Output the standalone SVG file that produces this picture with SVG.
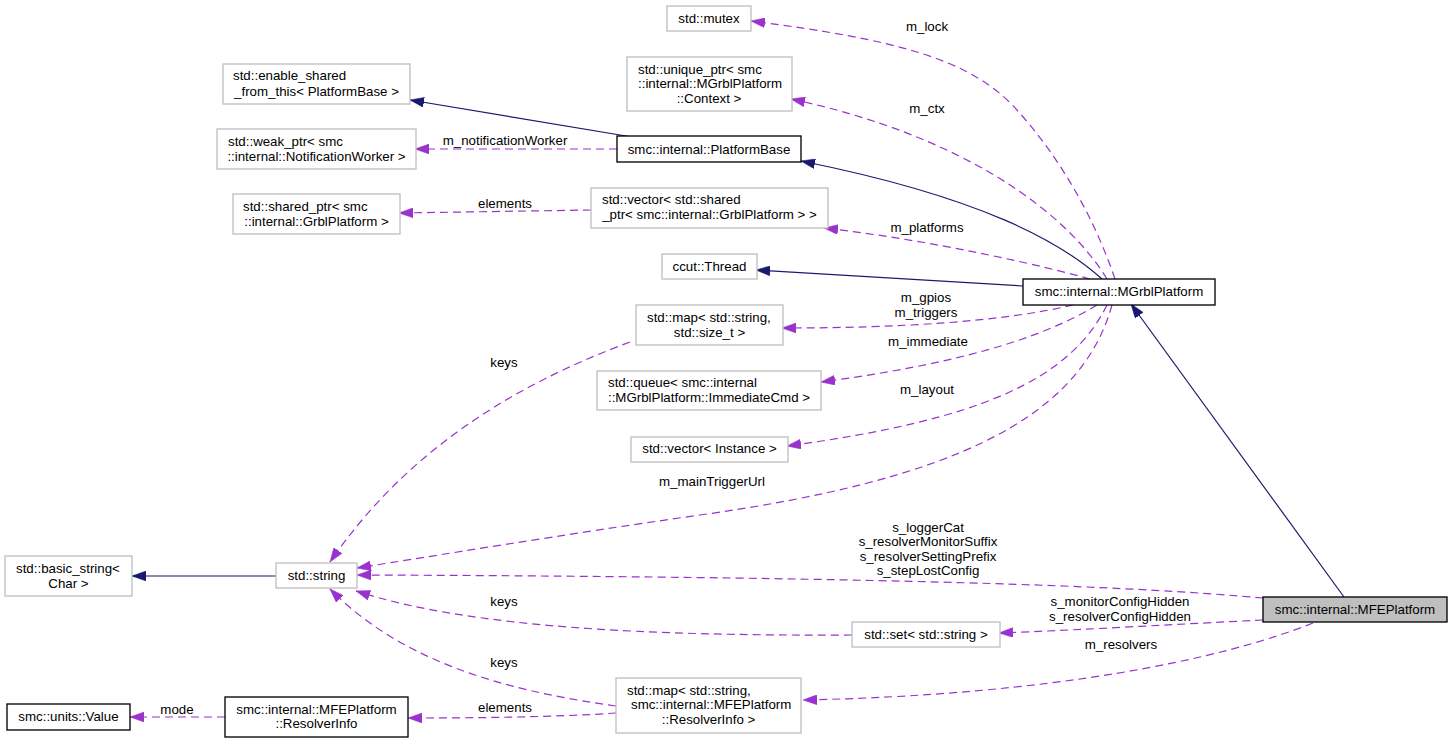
<svg xmlns="http://www.w3.org/2000/svg" width="1452" height="743" viewBox="0 0 1452 743">
<style>
text{font-family:"Liberation Sans",Arial,sans-serif;font-size:13.3px;fill:#000}
.c{text-anchor:middle}
.s{text-anchor:start}
.ext{fill:#fff;stroke:#bfbfbf;stroke-width:1.33}
.doc{fill:#fff;stroke:#000;stroke-width:1.33}
.cur{fill:#bfbfbf;stroke:#000;stroke-width:1.33}
.inh{fill:none;stroke:#191970;stroke-width:1.2}
.use{fill:none;stroke:#9a32cd;stroke-width:1.2;stroke-dasharray:8,5}
</style>
<defs>
<marker id="ah" markerUnits="userSpaceOnUse" markerWidth="14" markerHeight="10" viewBox="0 0 13.3 9.4" refX="13.3" refY="4.7" orient="auto">
<path d="M0,0 L13.3,4.7 L0,9.4 z" fill="#191970" stroke="#191970" stroke-width="0.5"/>
</marker>
<marker id="au" markerUnits="userSpaceOnUse" markerWidth="14" markerHeight="10" viewBox="0 0 13.3 9.4" refX="13.3" refY="4.7" orient="auto">
<path d="M0,0 L13.3,4.7 L0,9.4 z" fill="#9a32cd" stroke="#9a32cd" stroke-width="0.5"/>
</marker>
</defs>
<rect width="1452" height="743" fill="#fff"/>
<g id="connectors">
<path class="inh" marker-end="url(#ah)" d="M632,137 L410,100"/>
<path class="use" marker-end="url(#au)" d="M617,149 L415,149"/>
<path class="inh" marker-end="url(#ah)" d="M1102,279 C1062,243 985,198 801,161"/>
<path class="use" marker-end="url(#au)" d="M1115,279 C1095,220 1062,160 1017,110 S900,40 751,21"/>
<path class="use" marker-end="url(#au)" d="M1107,279 C1065,210 960,135 791,99"/>
<path class="use" marker-end="url(#au)" d="M1090,279 C1040,265 930,240 824,228"/>
<path class="use" marker-end="url(#au)" d="M591,210 L399,213"/>
<path class="inh" marker-end="url(#ah)" d="M1023,286 L756,270"/>
<path class="use" marker-end="url(#au)" d="M1073,305 C1000,322 900,328 782,328"/>
<path class="use" marker-end="url(#au)" d="M1097,305 C1040,340 950,365 821,382"/>
<path class="use" marker-end="url(#au)" d="M1107,305 C1070,380 980,420 787,446"/>
<path class="use" marker-end="url(#au)" d="M1112,305 C1080,420 950,480 700,515 C560,535 440,555 357,568"/>
<path class="use" marker-end="url(#au)" d="M1263,598 C1150,588 950,577 357,575"/>
<path class="use" marker-end="url(#au)" d="M1263,620 C1180,624 1080,630 999,633"/>
<path class="use" marker-end="url(#au)" d="M852,635 C650,636 470,628 356,591"/>
<path class="use" marker-end="url(#au)" d="M1313,623 C1220,660 1050,695 803,700"/>
<path class="use" marker-end="url(#au)" d="M616,706 C500,690 400,660 330,589"/>
<path class="use" marker-end="url(#au)" d="M616,713 C560,717 480,718 408,718"/>
<path class="use" marker-end="url(#au)" d="M225,717 L130,717"/>
<path class="inh" marker-end="url(#ah)" d="M276,576 L132,576"/>
<path class="use" marker-end="url(#au)" d="M630,342 C500,390 400,460 330,562"/>
<path class="inh" marker-end="url(#ah)" d="M1344,597 L1131,304"/>
<g id="edge-labels">
<text class="c" x="927" y="31">m_lock</text>
<text class="c" x="927" y="113">m_ctx</text>
<text class="c" x="505" y="145">m_notificationWorker</text>
<text class="c" x="505" y="208">elements</text>
<text class="c" x="927" y="232">m_platforms</text>
<text class="c" x="926" y="302">m_gpios</text>
<text class="c" x="926" y="317">m_triggers</text>
<text class="c" x="928" y="346">m_immediate</text>
<text class="c" x="927" y="394">m_layout</text>
<text class="c" x="504" y="367">keys</text>
<text class="c" x="712" y="486">m_mainTriggerUrl</text>
<text class="c" x="928" y="532">s_loggerCat</text>
<text class="c" x="928" y="546">s_resolverMonitorSuffix</text>
<text class="c" x="928" y="561">s_resolverSettingPrefix</text>
<text class="c" x="928" y="575">s_stepLostConfig</text>
<text class="c" x="1120" y="606">s_monitorConfigHidden</text>
<text class="c" x="1120" y="621">s_resolverConfigHidden</text>
<text class="c" x="1121" y="649">m_resolvers</text>
<text class="c" x="504" y="606">keys</text>
<text class="c" x="504" y="667">keys</text>
<text class="c" x="505" y="712">elements</text>
<text class="c" x="177" y="714">mode</text>
</g>
</g>
<g id="n-mutex"><rect class="ext" x="667" y="6" width="84" height="25"/><text class="c" x="709" y="23">std::mutex</text></g>
<g id="n-unique"><rect class="ext" x="627" y="57" width="165" height="54"/><text class="s" x="638" y="74">std::unique_ptr&lt; smc</text><text class="s" x="638" y="88">::internal::MGrblPlatform</text><text class="c" x="709" y="103">::Context &gt;</text></g>
<g id="n-platformbase"><rect class="doc" x="617" y="136" width="184" height="26"/><text class="c" x="709" y="154">smc::internal::PlatformBase</text></g>
<g id="n-enableshared"><rect class="ext" x="223" y="64" width="187" height="40"/><text class="s" x="233" y="80">std::enable_shared</text><text class="c" x="316.5" y="96">_from_this&lt; PlatformBase &gt;</text></g>
<g id="n-weakptr"><rect class="ext" x="217" y="129" width="199" height="40"/><text class="s" x="228" y="146">std::weak_ptr&lt; smc</text><text class="c" x="316.5" y="161">::internal::NotificationWorker &gt;</text></g>
<g id="n-sharedptr"><rect class="ext" x="233" y="194" width="167" height="40"/><text class="s" x="243" y="211">std::shared_ptr&lt; smc</text><text class="c" x="316.5" y="226">::internal::GrblPlatform &gt;</text></g>
<g id="n-vecshared"><rect class="ext" x="591" y="188" width="237" height="40"/><text class="s" x="602" y="204">std::vector&lt; std::shared</text><text class="c" x="709.5" y="219">_ptr&lt; smc::internal::GrblPlatform &gt; &gt;</text></g>
<g id="n-thread"><rect class="ext" x="662" y="254" width="95" height="25"/><text class="c" x="709.5" y="271">ccut::Thread</text></g>
<g id="n-mapsize"><rect class="ext" x="636" y="305" width="147" height="40"/><text class="s" x="647" y="322">std::map&lt; std::string,</text><text class="c" x="709.5" y="337">std::size_t &gt;</text></g>
<g id="n-queue"><rect class="ext" x="597" y="371" width="224" height="39"/><text class="s" x="608" y="387">std::queue&lt; smc::internal</text><text class="c" x="709" y="402">::MGrblPlatform::ImmediateCmd &gt;</text></g>
<g id="n-vecinstance"><rect class="ext" x="631" y="437" width="157" height="25"/><text class="c" x="709.5" y="453">std::vector&lt; Instance &gt;</text></g>
<g id="n-mgrbl"><rect class="doc" x="1023" y="279" width="192" height="26"/><text class="c" x="1119" y="296">smc::internal::MGrblPlatform</text></g>
<g id="n-mfe"><rect class="cur" x="1263" y="597" width="184" height="25"/><text class="c" x="1355" y="614">smc::internal::MFEPlatform</text></g>
<g id="n-string"><rect class="ext" x="276" y="563" width="81" height="25"/><text class="c" x="316.5" y="580">std::string</text></g>
<g id="n-basicstring"><rect class="ext" x="5" y="556" width="127" height="40"/><text class="s" x="16" y="573">std::basic_string&lt;</text><text class="c" x="68.5" y="588">Char &gt;</text></g>
<g id="n-set"><rect class="ext" x="852" y="622" width="148" height="25"/><text class="c" x="926" y="639">std::set&lt; std::string &gt;</text></g>
<g id="n-mapresolver"><rect class="ext" x="616" y="678" width="185" height="55"/><text class="s" x="627" y="695">std::map&lt; std::string,</text><text class="s" x="631" y="709">smc::internal::MFEPlatform</text><text class="c" x="708.5" y="724">::ResolverInfo &gt;</text></g>
<g id="n-resolverinfo"><rect class="doc" x="225" y="697" width="183" height="40"/><text class="c" x="316.5" y="714">smc::internal::MFEPlatform</text><text class="c" x="316.5" y="728">::ResolverInfo</text></g>
<g id="n-value"><rect class="doc" x="7" y="704" width="123" height="26"/><text class="c" x="68.5" y="721">smc::units::Value</text></g>
</svg>
